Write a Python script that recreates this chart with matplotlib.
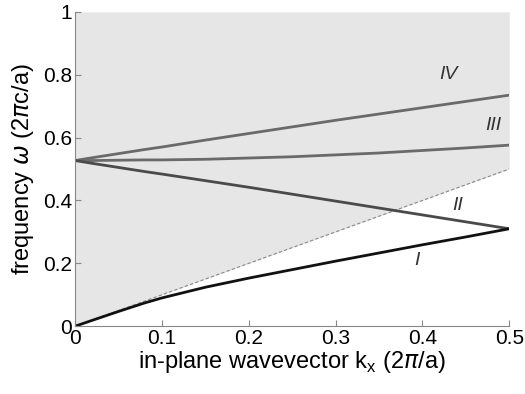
import matplotlib.pyplot as plt

plt.rcParams['font.family'] = ['Liberation Sans', 'DejaVu Sans']

# band data (kx in 2pi/a, omega in 2pi c/a)
kx = [0.0, 0.02, 0.05, 0.08, 0.1, 0.15, 0.2, 0.25, 0.3, 0.35, 0.4, 0.45, 0.5]
band_I = [0.0, 0.019, 0.047, 0.074, 0.09, 0.124, 0.153, 0.18, 0.207, 0.233, 0.259, 0.284, 0.31]
band_II = [0.527, 0.518, 0.505, 0.492, 0.484, 0.463, 0.442, 0.42, 0.398, 0.376, 0.354, 0.332, 0.31]
band_III = [0.527, 0.527, 0.528, 0.529, 0.529, 0.531, 0.535, 0.539, 0.545, 0.551, 0.559, 0.567, 0.576]
band_IV = [0.527, 0.536, 0.549, 0.562, 0.57, 0.592, 0.613, 0.634, 0.655, 0.675, 0.695, 0.715, 0.735]
light_x = [0.0, 0.5]
light_y = [0.0, 0.5]

labels = ['I', 'II', 'III', 'IV']
label_x = [0.394, 0.441, 0.482, 0.43]
label_y = [0.21, 0.385, 0.637, 0.80]

fig = plt.figure(figsize=(5.25, 3.94), dpi=100)
ax = fig.add_axes([0.143, 0.172, 0.827, 0.798])

# light cone shading
ax.fill_between(light_x, light_y, [1, 1], color='#e6e6e6', lw=0)
ax.plot(light_x, light_y, '--', color='#888888', lw=0.8, dashes=(3, 2))

ax.plot(kx, band_IV, color='#6a6a6a', lw=2)
ax.plot(kx, band_III, color='#6a6a6a', lw=2)
ax.plot(kx, band_II, color='#4a4a4a', lw=2)
ax.plot(kx, band_I, color='#111111', lw=2)

for t, x, y in zip(labels, label_x, label_y):
    ax.text(x, y, t, style='italic', fontsize=14, color='#333333', ha='center', va='center')

ax.set_xlim(0, 0.5)
ax.set_ylim(0, 1)
ax.set_xticks([0, 0.1, 0.2, 0.3, 0.4, 0.5])
ax.set_xticklabels(['0', '0.1', '0.2', '0.3', '0.4', '0.5'])
ax.set_yticks([0, 0.2, 0.4, 0.6, 0.8, 1])
ax.set_yticklabels(['0', '0.2', '0.4', '0.6', '0.8', '1'])
ax.tick_params(direction='in', labelsize=15, length=4, color='#888888', pad=2)
for s in ['top', 'right']:
    ax.spines[s].set_visible(False)
for s in ['left', 'bottom']:
    ax.spines[s].set_color('#888888')

ax.set_xlabel(r'in-plane wavevector k$_\mathregular{x}$ (2$\pi$/a)', fontsize=17, labelpad=1)
ax.set_ylabel(r'frequency $\omega$ (2$\pi$c/a)', fontsize=17, labelpad=5)

fig.savefig('out.png', dpi=100)
